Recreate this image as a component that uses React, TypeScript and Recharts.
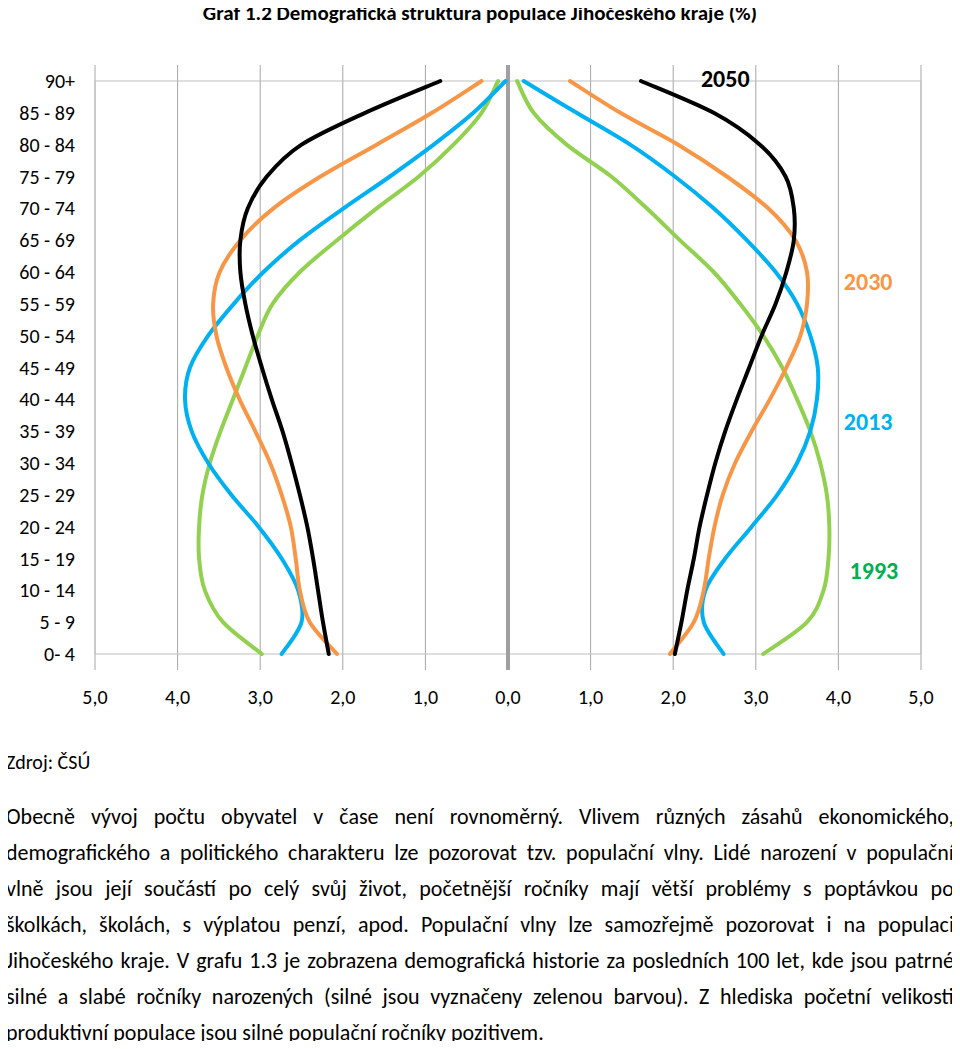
import React from "react";
import {
  LineChart,
  Line,
  XAxis,
  YAxis,
  CartesianGrid,
  ReferenceLine,
  ReferenceArea,
  ReferenceDot,
} from "recharts";

const FONT = "Carlito, Calibri, Lato, sans-serif";

// Age groups, top to bottom
const ages = [
  "90+", "85 - 89", "80 - 84", "75 - 79", "70 - 74", "65 - 69", "60 - 64",
  "55 - 59", "50 - 54", "45 - 49", "40 - 44", "35 - 39", "30 - 34", "25 - 29",
  "20 - 24", "15 - 19", "10 - 14", "5 - 9", "0- 4",
];

// Left side (men), share in %
const male1993 = [0.12, 0.32, 0.66, 1.08, 1.59, 2.07, 2.52, 2.85, 3.03, 3.18, 3.33, 3.48, 3.61, 3.7, 3.74, 3.74, 3.67, 3.45, 2.98];
const male2013 = [0.03, 0.42, 0.9, 1.43, 1.99, 2.52, 2.96, 3.32, 3.63, 3.85, 3.91, 3.83, 3.63, 3.35, 3.02, 2.74, 2.54, 2.5, 2.74];
const male2030 = [0.32, 0.92, 1.59, 2.27, 2.84, 3.24, 3.49, 3.57, 3.53, 3.41, 3.25, 3.06, 2.88, 2.74, 2.63, 2.57, 2.52, 2.4, 2.07];
const male2050 = [0.82, 1.73, 2.5, 2.92, 3.15, 3.24, 3.24, 3.18, 3.09, 2.98, 2.86, 2.73, 2.62, 2.52, 2.43, 2.36, 2.3, 2.24, 2.17];

// Right side (women), share in %
const female1993 = [0.11, 0.31, 0.71, 1.25, 1.68, 2.08, 2.49, 2.81, 3.09, 3.32, 3.5, 3.66, 3.78, 3.86, 3.89, 3.88, 3.82, 3.62, 3.09];
const female2013 = [0.19, 0.83, 1.48, 2.02, 2.49, 2.89, 3.24, 3.5, 3.66, 3.75, 3.74, 3.66, 3.5, 3.26, 2.95, 2.63, 2.39, 2.37, 2.61];
const female2030 = [0.75, 1.36, 2.06, 2.65, 3.15, 3.48, 3.62, 3.62, 3.54, 3.37, 3.17, 2.95, 2.75, 2.6, 2.5, 2.43, 2.37, 2.25, 1.96];
const female2050 = [1.61, 2.49, 3.05, 3.36, 3.46, 3.46, 3.37, 3.24, 3.07, 2.92, 2.77, 2.63, 2.51, 2.41, 2.32, 2.25, 2.17, 2.1, 2.02];

const xTicks = [-5, -4, -3, -2, -1, 0, 1, 2, 3, 4, 5];

const years = ["1993", "2013", "2030", "2050"];
const lineColors: Record<string, string> = {
  "1993": "#92D050",
  "2013": "#00B0F0",
  "2030": "#F79646",
  "2050": "#000000",
};
const labelColors: Record<string, string> = {
  "1993": "#00B050",
  "2013": "#00B0F0",
  "2030": "#F79646",
  "2050": "#000000",
};
// label anchor: x value and nearest age row
const labelX: Record<string, number> = { "2050": 2.63, "2030": 4.36, "2013": 4.36, "1993": 4.43 };
const labelAge: Record<string, string> = { "2050": "90+", "2030": "60 - 64", "2013": "35 - 39", "1993": "15 - 19" };
const labelDy: Record<string, number> = { "2050": -3, "2030": 9, "2013": -10, "1993": 12 };

const title = "Graf 1.2 Demografická struktura populace Jihočeského kraje (%)";
const source = "Zdroj: ČSÚ";
const bodyLines = [
  "Obecně vývoj počtu obyvatel v čase není rovnoměrný. Vlivem různých zásahů ekonomického,",
  "demografického a politického charakteru lze pozorovat tzv. populační vlny. Lidé narození v populační",
  "vlně jsou její součástí po celý svůj život, početnější ročníky mají větší problémy s poptávkou po",
  "školkách, školách, s výplatou penzí, apod. Populační vlny lze samozřejmě pozorovat i na populaci",
  "Jihočeského kraje. V grafu 1.3 je zobrazena demografická historie za posledních 100 let, kde jsou patrné",
  "silné a slabé ročníky narozených (silné jsou vyznačeny zelenou barvou). Z hlediska početní velikosti",
  "produktivní populace jsou silné populační ročníky pozitivem.",
];

const data = ages.map((age, i) => ({
  age,
  m1993: -male1993[i],
  m2013: -male2013[i],
  m2030: -male2030[i],
  m2050: -male2050[i],
  f1993: female1993[i],
  f2013: female2013[i],
  f2030: female2030[i],
  f2050: female2050[i],
}));

const fmt = (v: number) => Math.abs(v).toFixed(1).replace(".", ",");

// Excel-like smoothed line: uniform Catmull-Rom spline as a d3 curve factory
function excelSmooth(context: any) {
  let pts: [number, number][] = [];
  return {
    areaStart() {},
    areaEnd() {},
    lineStart() {
      pts = [];
    },
    point(x: number, y: number) {
      pts.push([+x, +y]);
    },
    lineEnd() {
      const n = pts.length;
      if (!n) return;
      context.moveTo(pts[0][0], pts[0][1]);
      for (let i = 0; i < n - 1; i++) {
        const p0 = pts[i - 1] || pts[i];
        const p1 = pts[i];
        const p2 = pts[i + 1];
        const p3 = pts[i + 2] || pts[i + 1];
        const c1x = p1[0] + (p2[0] - p0[0]) / 6;
        const c1y = p1[1] + (p2[1] - p0[1]) / 6;
        const c2x = p2[0] - (p3[0] - p1[0]) / 6;
        const c2y = p2[1] - (p3[1] - p1[1]) / 6;
        context.bezierCurveTo(c1x, c1y, c2x, c2y, p2[0], p2[1]);
      }
    },
  };
}

function BodyLine({ text, justify }: { text: string; justify: boolean }) {
  if (!justify) {
    return <div style={{ whiteSpace: "nowrap", height: 36, lineHeight: "36px" }}>{text}</div>;
  }
  const words = text.split(" ");
  return (
    <div
      style={{
        display: "flex",
        justifyContent: "space-between",
        whiteSpace: "nowrap",
        height: 36,
        lineHeight: "36px",
      }}
    >
      {words.map((w, i) => (
        <span key={i} style={{ flex: "none" }}>{w}</span>
      ))}
    </div>
  );
}

export default function App() {
  return (
    <div
      style={{
        position: "relative",
        width: 960,
        height: 1049,
        margin: -8,
        background: "#ffffff",
        fontFamily: FONT,
        color: "#000",
        overflow: "hidden",
      }}
    >
      <div style={{ position: "absolute", left: 0, top: 0 }}>
        <LineChart
          width={960}
          height={720}
          data={data}
          layout="vertical"
          margin={{ top: 65, right: 39, bottom: 0, left: 0 }}
        >
          <CartesianGrid horizontal={false} stroke="#A6A6A6" strokeWidth={1} />
          <ReferenceArea x1={-5} x2={5} fill="none" stroke="#BFBFBF" strokeWidth={1} />
          <XAxis
            type="number"
            domain={[-5, 5]}
            ticks={xTicks}
            tickFormatter={fmt}
            axisLine={false}
            tickLine={false}
            tickSize={0}
            tickMargin={20}
            height={50}
            interval={0}
            tick={{ fill: "#000", fontSize: 20, fontFamily: FONT }}
          />
          <YAxis
            type="category"
            dataKey="age"
            width={95}
            axisLine={false}
            tickLine={false}
            tickSize={0}
            tickMargin={20}
            interval={0}
            padding={{ top: 16, bottom: 16 }}
            tick={{ fill: "#000", fontSize: 20, fontFamily: FONT }}
          />
          <ReferenceLine x={0} stroke="#A0A0A0" strokeWidth={4} />
          {years.map((y) => (
            <Line
              key={"m" + y}
              dataKey={"m" + y}
              type={excelSmooth as any}
              stroke={lineColors[y]}
              strokeWidth={4}
              strokeLinecap="round"
              dot={false}
              activeDot={false}
              isAnimationActive={false}
            />
          ))}
          {years.map((y) => (
            <Line
              key={"f" + y}
              dataKey={"f" + y}
              type={excelSmooth as any}
              stroke={lineColors[y]}
              strokeWidth={4}
              strokeLinecap="round"
              dot={false}
              activeDot={false}
              isAnimationActive={false}
            />
          ))}
          {years.map((y) => (
            <ReferenceDot
              key={"l" + y}
              x={labelX[y]}
              y={labelAge[y]}
              r={0}
              fill="none"
              stroke="none"
              label={(props: any) => {
                const vb = props.viewBox || {};
                const cx = (vb.x ?? 0) + (vb.width ?? 0) / 2;
                const cy = (vb.y ?? 0) + (vb.height ?? 0) / 2;
                return (
                  <text
                    x={cx}
                    y={cy + labelDy[y]}
                    textAnchor="middle"
                    dominantBaseline="central"
                    fill={labelColors[y]}
                    fontSize={24}
                    fontWeight={700}
                    fontFamily={FONT}
                  >
                    {y}
                  </text>
                );
              }}
            />
          ))}
        </LineChart>
      </div>

      <div
        style={{
          position: "absolute",
          left: 0,
          top: 0,
          width: 960,
          textAlign: "center",
          fontWeight: 700,
          fontSize: 21,
          lineHeight: "26px",
          zIndex: 2,
        }}
      >
        {title}
      </div>

      <div
        style={{
          position: "absolute",
          left: 6,
          top: 744,
          fontSize: 20,
          lineHeight: "36px",
        }}
      >
        {source}
      </div>

      <div style={{ position: "absolute", left: 6, top: 799, width: 948, fontSize: 22 }}>
        {bodyLines.map((t, i) => (
          <BodyLine key={i} text={t} justify={i < bodyLines.length - 1} />
        ))}
      </div>
    </div>
  );
}
